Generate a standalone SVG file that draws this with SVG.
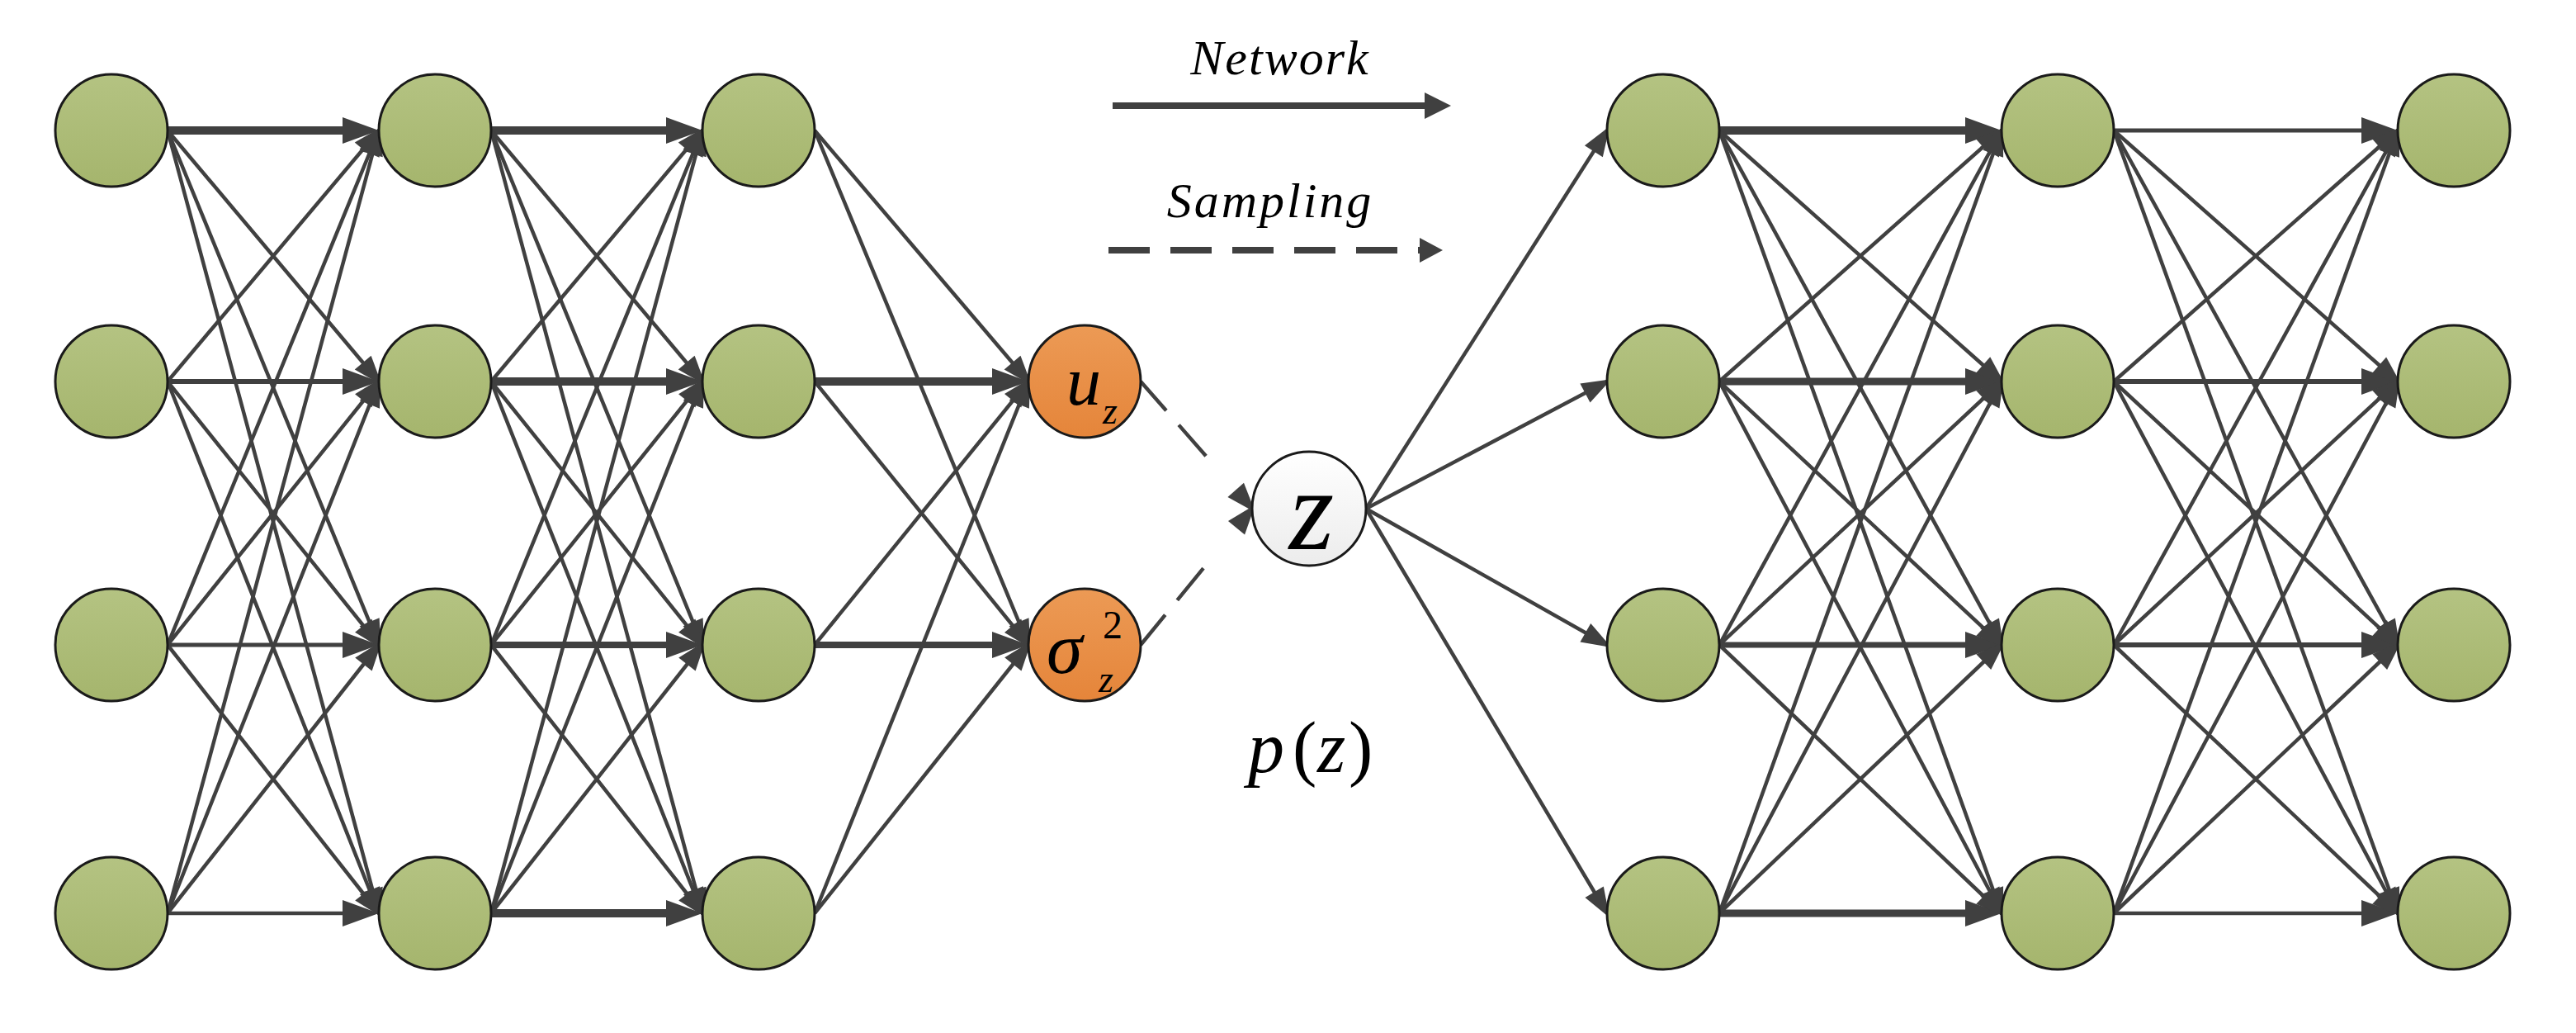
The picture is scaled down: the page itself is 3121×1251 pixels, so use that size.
<svg xmlns="http://www.w3.org/2000/svg" width="3121" height="1251" viewBox="0 0 3121 1251">
<style>
.c line{stroke:#404040;fill:none}
.t{stroke-width:4.5;marker-end:url(#at)}
.h{marker-end:url(#ah)}
.d{stroke-width:4.5;stroke-dasharray:47 23 50 400;marker-end:url(#at)}
.g{fill:url(#gg);stroke:#1a1a1a;stroke-width:3}
.o{fill:url(#go);stroke:#1a1a1a;stroke-width:3}
.w{fill:url(#gw);stroke:#1a1a1a;stroke-width:3}
.f{font-family:"Liberation Serif","Times New Roman",Times,Tinos,"Nimbus Roman","Nimbus Roman No9 L","Noto Serif","DejaVu Serif",FreeSerif,serif;fill:#000}
</style>
<defs>
<linearGradient id="gg" x1="0" y1="0" x2="0" y2="1"><stop offset="0" stop-color="#B4C382"/><stop offset="1" stop-color="#A5B56D"/></linearGradient>
<linearGradient id="go" x1="0" y1="0" x2="0" y2="1"><stop offset="0" stop-color="#EC9A55"/><stop offset="1" stop-color="#E5853A"/></linearGradient>
<linearGradient id="gw" x1="0" y1="0" x2="0" y2="1"><stop offset="0" stop-color="#FFFFFF"/><stop offset="1" stop-color="#ECECEC"/></linearGradient>
<marker id="at" markerUnits="userSpaceOnUse" markerWidth="36" markerHeight="26" refX="30" refY="13" orient="auto" overflow="visible"><path d="M0,0 L36,13 L0,26 z" fill="#404040"/></marker>
<marker id="ah" markerUnits="userSpaceOnUse" markerWidth="44" markerHeight="32" refX="30" refY="16" orient="auto" overflow="visible"><path d="M0,0 L44,16 L0,32 z" fill="#404040"/></marker>
<marker id="al" markerUnits="userSpaceOnUse" markerWidth="32" markerHeight="32" refX="14" refY="16" orient="auto" overflow="visible"><path d="M0,0 L32,16 L0,32 z" fill="#404040"/></marker>
<marker id="ald" markerUnits="userSpaceOnUse" markerWidth="28" markerHeight="30" refX="2" refY="15" orient="auto" overflow="visible"><path d="M0,0 L28,15 L0,30 z" fill="#404040"/></marker>
</defs>
<rect width="3121" height="1251" fill="#ffffff"/>
<g id="legend" class="f">
<text font-style="italic" x="1551" y="90" font-size="60" letter-spacing="2" text-anchor="middle">Network</text>
<line x1="1348" y1="128" x2="1740" y2="128" stroke="#404040" stroke-width="8" marker-end="url(#al)"/>
<text font-style="italic" x="1539" y="263" font-size="60" letter-spacing="3" text-anchor="middle">Sampling</text>
<line x1="1343" y1="303" x2="1722" y2="303" stroke="#404040" stroke-width="8" stroke-dasharray="50 25" marker-end="url(#ald)"/>
</g>
<g id="connectors" class="c">
<line class="h" x1="203" y1="158" x2="445" y2="158" stroke-width="10"/>
<line class="h" x1="203" y1="462" x2="445" y2="462" stroke-width="6"/>
<line class="h" x1="203" y1="781" x2="445" y2="781" stroke-width="5"/>
<line class="h" x1="203" y1="1106" x2="445" y2="1106" stroke-width="4.5"/>
<line class="t" x1="203" y1="158" x2="459" y2="462"/>
<line class="t" x1="203" y1="158" x2="459" y2="781"/>
<line class="t" x1="203" y1="158" x2="459" y2="1106"/>
<line class="t" x1="203" y1="462" x2="459" y2="158"/>
<line class="t" x1="203" y1="462" x2="459" y2="781"/>
<line class="t" x1="203" y1="462" x2="459" y2="1106"/>
<line class="t" x1="203" y1="781" x2="459" y2="158"/>
<line class="t" x1="203" y1="781" x2="459" y2="462"/>
<line class="t" x1="203" y1="781" x2="459" y2="1106"/>
<line class="t" x1="203" y1="1106" x2="459" y2="158"/>
<line class="t" x1="203" y1="1106" x2="459" y2="462"/>
<line class="t" x1="203" y1="1106" x2="459" y2="781"/>
<line class="h" x1="595" y1="158" x2="837" y2="158" stroke-width="10"/>
<line class="h" x1="595" y1="462" x2="837" y2="462" stroke-width="10"/>
<line class="h" x1="595" y1="781" x2="837" y2="781" stroke-width="8"/>
<line class="h" x1="595" y1="1106" x2="837" y2="1106" stroke-width="10"/>
<line class="t" x1="595" y1="158" x2="851" y2="462"/>
<line class="t" x1="595" y1="158" x2="851" y2="781"/>
<line class="t" x1="595" y1="158" x2="851" y2="1106"/>
<line class="t" x1="595" y1="462" x2="851" y2="158"/>
<line class="t" x1="595" y1="462" x2="851" y2="781"/>
<line class="t" x1="595" y1="462" x2="851" y2="1106"/>
<line class="t" x1="595" y1="781" x2="851" y2="158"/>
<line class="t" x1="595" y1="781" x2="851" y2="462"/>
<line class="t" x1="595" y1="781" x2="851" y2="1106"/>
<line class="t" x1="595" y1="1106" x2="851" y2="158"/>
<line class="t" x1="595" y1="1106" x2="851" y2="462"/>
<line class="t" x1="595" y1="1106" x2="851" y2="781"/>
<line class="h" x1="987" y1="462" x2="1232" y2="462" stroke-width="10"/>
<line class="h" x1="987" y1="781" x2="1232" y2="781" stroke-width="8"/>
<line class="t" x1="987" y1="158" x2="1246" y2="462"/>
<line class="t" x1="987" y1="158" x2="1246" y2="781"/>
<line class="t" x1="987" y1="462" x2="1246" y2="781"/>
<line class="t" x1="987" y1="781" x2="1246" y2="462"/>
<line class="t" x1="987" y1="1106" x2="1246" y2="462"/>
<line class="t" x1="987" y1="1106" x2="1246" y2="781"/>
<line class="d" x1="1382" y1="462" x2="1517" y2="616"/>
<line class="d" x1="1382" y1="781" x2="1517" y2="616"/>
<line class="t" x1="1655" y1="616" x2="1947" y2="158"/>
<line class="t" x1="1655" y1="616" x2="1947" y2="462"/>
<line class="t" x1="1655" y1="616" x2="1947" y2="781"/>
<line class="t" x1="1655" y1="616" x2="1947" y2="1106"/>
<line class="h" x1="2083" y1="158" x2="2411" y2="158" stroke-width="10"/>
<line class="h" x1="2083" y1="462" x2="2411" y2="462" stroke-width="9"/>
<line class="h" x1="2083" y1="781" x2="2411" y2="781" stroke-width="7"/>
<line class="h" x1="2083" y1="1106" x2="2411" y2="1106" stroke-width="9"/>
<line class="t" x1="2083" y1="158" x2="2425" y2="462"/>
<line class="t" x1="2083" y1="158" x2="2425" y2="781"/>
<line class="t" x1="2083" y1="158" x2="2425" y2="1106"/>
<line class="t" x1="2083" y1="462" x2="2425" y2="158"/>
<line class="t" x1="2083" y1="462" x2="2425" y2="781"/>
<line class="t" x1="2083" y1="462" x2="2425" y2="1106"/>
<line class="t" x1="2083" y1="781" x2="2425" y2="158"/>
<line class="t" x1="2083" y1="781" x2="2425" y2="462"/>
<line class="t" x1="2083" y1="781" x2="2425" y2="1106"/>
<line class="t" x1="2083" y1="1106" x2="2425" y2="158"/>
<line class="t" x1="2083" y1="1106" x2="2425" y2="462"/>
<line class="t" x1="2083" y1="1106" x2="2425" y2="781"/>
<line class="h" x1="2561" y1="158" x2="2891" y2="158" stroke-width="5"/>
<line class="h" x1="2561" y1="462" x2="2891" y2="462" stroke-width="6"/>
<line class="h" x1="2561" y1="781" x2="2891" y2="781" stroke-width="6"/>
<line class="h" x1="2561" y1="1106" x2="2891" y2="1106" stroke-width="4.5"/>
<line class="t" x1="2561" y1="158" x2="2905" y2="462"/>
<line class="t" x1="2561" y1="158" x2="2905" y2="781"/>
<line class="t" x1="2561" y1="158" x2="2905" y2="1106"/>
<line class="t" x1="2561" y1="462" x2="2905" y2="158"/>
<line class="t" x1="2561" y1="462" x2="2905" y2="781"/>
<line class="t" x1="2561" y1="462" x2="2905" y2="1106"/>
<line class="t" x1="2561" y1="781" x2="2905" y2="158"/>
<line class="t" x1="2561" y1="781" x2="2905" y2="462"/>
<line class="t" x1="2561" y1="781" x2="2905" y2="1106"/>
<line class="t" x1="2561" y1="1106" x2="2905" y2="158"/>
<line class="t" x1="2561" y1="1106" x2="2905" y2="462"/>
<line class="t" x1="2561" y1="1106" x2="2905" y2="781"/>
</g>
<g id="n-in-1"><circle class="g" cx="135" cy="158" r="68"/></g>
<g id="n-in-2"><circle class="g" cx="135" cy="462" r="68"/></g>
<g id="n-in-3"><circle class="g" cx="135" cy="781" r="68"/></g>
<g id="n-in-4"><circle class="g" cx="135" cy="1106" r="68"/></g>
<g id="n-h1-1"><circle class="g" cx="527" cy="158" r="68"/></g>
<g id="n-h1-2"><circle class="g" cx="527" cy="462" r="68"/></g>
<g id="n-h1-3"><circle class="g" cx="527" cy="781" r="68"/></g>
<g id="n-h1-4"><circle class="g" cx="527" cy="1106" r="68"/></g>
<g id="n-h2-1"><circle class="g" cx="919" cy="158" r="68"/></g>
<g id="n-h2-2"><circle class="g" cx="919" cy="462" r="68"/></g>
<g id="n-h2-3"><circle class="g" cx="919" cy="781" r="68"/></g>
<g id="n-h2-4"><circle class="g" cx="919" cy="1106" r="68"/></g>
<g id="n-mu" class="f"><circle class="o" cx="1314" cy="462" r="68"/>
<text font-style="italic" x="1292" y="490" font-size="84">u</text>
<text font-style="italic" x="1336" y="513" font-size="46">z</text></g>
<g id="n-sigma" class="f"><circle class="o" cx="1314" cy="781" r="68"/>
<text font-style="italic" x="1268" y="815" font-size="88">σ</text>
<text x="1336" y="773" font-size="48">2</text>
<text font-style="italic" x="1331" y="838" font-size="46">z</text></g>
<g id="n-z" class="f"><circle class="w" cx="1586" cy="616" r="69"/>
<text font-style="italic" x="1589" y="665" font-size="140" text-anchor="middle">z</text></g>
<g id="n-oA-1"><circle class="g" cx="2015" cy="158" r="68"/></g>
<g id="n-oA-2"><circle class="g" cx="2015" cy="462" r="68"/></g>
<g id="n-oA-3"><circle class="g" cx="2015" cy="781" r="68"/></g>
<g id="n-oA-4"><circle class="g" cx="2015" cy="1106" r="68"/></g>
<g id="n-oB-1"><circle class="g" cx="2493" cy="158" r="68"/></g>
<g id="n-oB-2"><circle class="g" cx="2493" cy="462" r="68"/></g>
<g id="n-oB-3"><circle class="g" cx="2493" cy="781" r="68"/></g>
<g id="n-oB-4"><circle class="g" cx="2493" cy="1106" r="68"/></g>
<g id="n-oC-1"><circle class="g" cx="2973" cy="158" r="68"/></g>
<g id="n-oC-2"><circle class="g" cx="2973" cy="462" r="68"/></g>
<g id="n-oC-3"><circle class="g" cx="2973" cy="781" r="68"/></g>
<g id="n-oC-4"><circle class="g" cx="2973" cy="1106" r="68"/></g>
<g id="label-pz" class="f">
<text font-size="88" y="935"><tspan font-style="italic" x="1512">p</tspan><tspan x="1566">(</tspan><tspan font-style="italic" x="1596">z</tspan><tspan x="1634">)</tspan></text>
</g>
</svg>
